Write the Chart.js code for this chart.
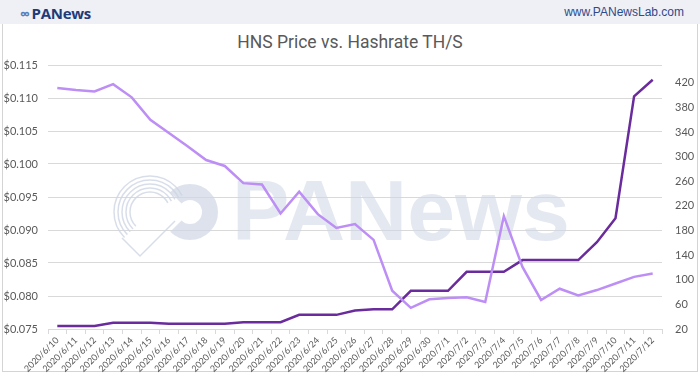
<!DOCTYPE html>
<html>
<head>
<meta charset="utf-8">
<script src="https://cdn.jsdelivr.net/npm/chart.js@4/dist/chart.umd.min.js"></script>
<style>
  html, body { margin: 0; padding: 0; background: #ffffff; }
  #wrap { position: relative; width: 700px; height: 379px; overflow: hidden; font-family: Roboto, "Open Sans", sans-serif; }
  #header { position: absolute; left: 0; top: 0; width: 700px; height: 24px; background: #eef0f6; }
  #logo { position: absolute; left: 20px; top: 3px; font: bold 15px "Open Sans", Roboto, sans-serif; color: #1f3b78; letter-spacing: -0.3px; }
  #logo span.ic { color: #5b7bb8; margin-right: 2px; font-size: 14px; }
  #site { position: absolute; right: 16px; top: 5px; font: 12px "Liberation Sans", Arial, sans-serif; color: #2d4a8a; }
  #frame { position: absolute; left: 2px; top: 24px; width: 694px; height: 347px; border-left: 1px solid #d4d4d4; border-right: 1px solid #d4d4d4; border-bottom: 1px solid #d4d4d4; }
  #title { position: absolute; left: 0; top: 32px; width: 700px; text-align: center; font: 17.5px Roboto, sans-serif; color: #595959; }
  canvas { position: absolute; left: 0; top: 0; }
</style>
</head>
<body>
<div id="wrap">
  <div id="header"><div id="logo"><span class="ic">&#x221E;</span>PANews</div><div id="site">www.PANewsLab.com</div></div>
  <div id="frame"></div>
  <div id="title">HNS Price vs. Hashrate TH/S</div>
  <canvas id="c" width="700" height="379"></canvas>
</div>
<script>
const categories = [
  "2020/6/10","2020/6/11","2020/6/12","2020/6/13","2020/6/14","2020/6/15","2020/6/16","2020/6/17",
  "2020/6/18","2020/6/19","2020/6/20","2020/6/21","2020/6/22","2020/6/23","2020/6/24","2020/6/25",
  "2020/6/26","2020/6/27","2020/6/28","2020/6/29","2020/6/30","2020/7/1","2020/7/2","2020/7/3",
  "2020/7/4","2020/7/5","2020/7/6","2020/7/7","2020/7/8","2020/7/9","2020/7/10","2020/7/11","2020/7/12"
];
const priceUSD = [
  0.1115, 0.1112, 0.1110, 0.1121, 0.1101, 0.1067, 0.1047, 0.1027,
  0.1006, 0.0997, 0.0971, 0.0969, 0.0925, 0.0958, 0.0924, 0.0903,
  0.0909, 0.0885, 0.0808, 0.0782, 0.0795, 0.0797, 0.0798, 0.0791,
  0.0921, 0.0844, 0.0794, 0.0811, 0.0801, 0.0809, 0.0819, 0.0829, 0.0834
];
const hashrateTHs = [
  25, 25, 25, 30, 30, 30, 28.6, 28.6,
  28.6, 28.6, 31, 31, 31, 43, 43, 43,
  50, 52, 52, 82, 82, 82, 113, 113,
  113, 132, 132, 132, 132, 161, 200, 398, 425
];
const leftTicks = [0.075, 0.080, 0.085, 0.090, 0.095, 0.100, 0.105, 0.110, 0.115];
const rightTicks = [20, 60, 100, 140, 180, 220, 260, 300, 340, 380, 420];

const watermark = {
  id: 'watermark',
  beforeDatasetsDraw(chart) {
    const ctx = chart.ctx;
    ctx.save();
    ctx.fillStyle = 'rgba(206,214,228,0.55)';
    ctx.font = 'bold 86px "Liberation Sans", Arial, sans-serif';
    ctx.textBaseline = 'alphabetic';
    ctx.fillText('PANews', 232, 240, 358);
    // logo: concentric arcs
    ctx.strokeStyle = 'rgba(206,214,228,0.8)';
    ctx.lineWidth = 1.5;
    for (let r = 20; r <= 36; r += 4) {
      ctx.beginPath();
      ctx.arc(150, 212, r, Math.PI * 0.75, Math.PI * 1.85);
      ctx.stroke();
    }
    ctx.beginPath();
    ctx.moveTo(122, 238); ctx.lineTo(140, 256); ctx.lineTo(175, 221);
    ctx.stroke();
    // thick U shape
    ctx.strokeStyle = 'rgba(206,214,228,0.7)';
    ctx.lineWidth = 16;
    ctx.beginPath();
    ctx.arc(190, 212, 20, Math.PI * 1.25, Math.PI * 0.75, false);
    ctx.stroke();
    ctx.restore();
  }
};

new Chart(document.getElementById('c'), {
  type: 'line',
  data: {
    labels: categories,
    datasets: [
      { label: 'HNS Price', data: priceUSD, yAxisID: 'y', borderColor: '#bd8ef5', borderWidth: 2.5, pointRadius: 0, tension: 0, fill: false },
      { label: 'Hashrate TH/S', data: hashrateTHs, yAxisID: 'y1', borderColor: '#6a2b9c', borderWidth: 2.5, pointRadius: 0, tension: 0, fill: false }
    ]
  },
  options: {
    responsive: false,
    animation: false,
    layout: { padding: { top: 65, left: 0, right: 0, bottom: 0 } },
    plugins: { legend: { display: false }, title: { display: false }, tooltip: { enabled: false } },
    scales: {
      x: {
        offset: true,
        grid: { display: true, drawOnChartArea: false, offset: true, tickLength: 5, color: '#d9d9d9' },
        border: { color: '#d9d9d9' },
        ticks: { autoSkip: false, minRotation: 45, maxRotation: 45, padding: 1, color: '#595959', font: { family: 'Lato, "Open Sans", sans-serif', size: 9 } },
        afterFit(s) { s.height = 50; }
      },
      y: {
        position: 'left',
        min: 0.075, max: 0.115,
        afterBuildTicks(s) { s.ticks = leftTicks.map(v => ({ value: v })); },
        grid: { color: '#d9d9d9', drawTicks: false },
        border: { display: false },
        ticks: { padding: 10, color: '#595959', font: { family: 'Lato, "Open Sans", sans-serif', size: 11 }, callback: v => '$' + Number(v).toFixed(3) },
        afterFit(s) { s.width = 48; }
      },
      y1: {
        position: 'right',
        min: 20, max: 449,
        afterBuildTicks(s) { s.ticks = rightTicks.map(v => ({ value: v })); },
        grid: { drawOnChartArea: false, drawTicks: false },
        border: { display: false },
        ticks: { padding: 13, color: '#595959', font: { family: 'Lato, "Open Sans", sans-serif', size: 11 } },
        afterFit(s) { s.width = 38; }
      }
    }
  },
  plugins: [watermark]
});
</script>
</body>
</html>
